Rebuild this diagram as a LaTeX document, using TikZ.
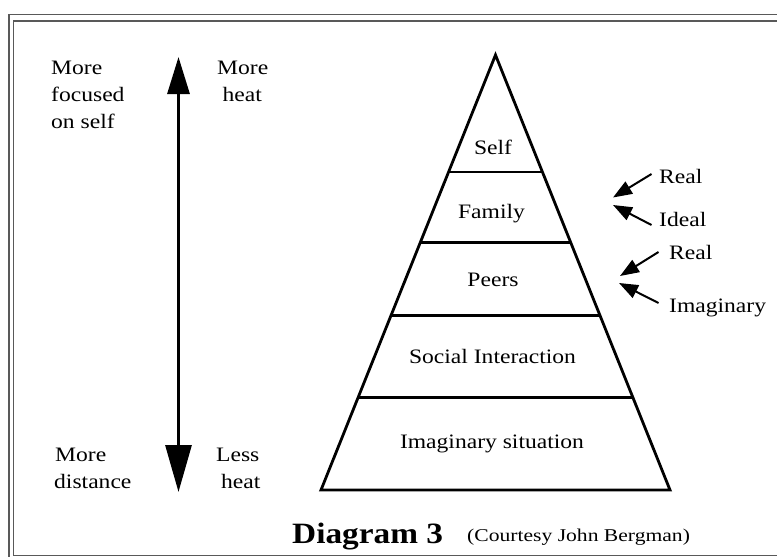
\documentclass[tikz,border=0pt]{standalone}
\usepackage{fontspec}
\setmainfont{Liberation Serif}[FakeStretch=1.15]
\newfontfamily\capfont{Liberation Serif}[FakeStretch=1.2]
\newfontfamily\titlefont{Liberation Serif Bold}[FakeStretch=1.13]
\usetikzlibrary{arrows.meta,calc}
\begin{document}
\begin{tikzpicture}[x=1pt,y=-1pt,
  frameline/.style={draw=black!65,line width=1.6pt},
  pyr/.style={draw=black,line width=2.8pt,line join=miter},
  tier/.style={draw=black,line width=2.8pt},
  lbl/.style={inner sep=0pt,anchor=base west,font=\fontsize{20.5}{24}\selectfont},
  plbl/.style={inner sep=0pt,anchor=base,font=\fontsize{20.5}{24}\selectfont},
  bigarrow/.style={draw=black,line width=3pt,
     {Triangle[length=37pt,width=22pt]}-{Triangle[length=47pt,width=26pt]}},
  smallarrow/.style={draw=black,line width=2pt,-{Triangle[length=19pt,width=14pt]}}]
\useasboundingbox (0,0) rectangle (777,557);
\fill[white] (0,0) rectangle (777,557);
% frame
\draw[frameline] (9,557) -- (9,14.5) -- (777,14.5);
\draw[frameline] (777,21) -- (13.5,21) -- (13.5,555.5) -- (777,555.5);
% pyramid
\coordinate (apex) at (495.5,55);
\coordinate (bl) at (321,490);
\coordinate (br) at (670,490);
\draw[pyr] (apex) -- (bl) -- (br) -- cycle;
\coordinate (l1) at ($(apex)!0.269!(bl)$);
\coordinate (r1) at ($(apex)!0.269!(br)$);
\coordinate (l2) at ($(apex)!0.431!(bl)$);
\coordinate (r2) at ($(apex)!0.431!(br)$);
\coordinate (l3) at ($(apex)!0.598!(bl)$);
\coordinate (r3) at ($(apex)!0.598!(br)$);
\coordinate (l4) at ($(apex)!0.787!(bl)$);
\coordinate (r4) at ($(apex)!0.787!(br)$);
\draw[tier] (l1) -- (r1);
\draw[tier] (l2) -- (r2);
\draw[tier] (l3) -- (r3);
\draw[tier] (l4) -- (r4);
\node[plbl] (self) at (493,154) {Self};
\node[plbl] (family) at (491.5,218) {Family};
\node[plbl] (peers) at (493,286) {Peers};
\node[plbl] (social) at (492.5,363) {Social Interaction};
\node[plbl] (imsit) at (492,448) {Imaginary situation};
% left scale
\coordinate (atop) at (178.5,57);
\coordinate (abot) at (178.5,492);
\draw[bigarrow] (atop) -- (abot);
\node[lbl] (m1) at (51,74) {More};
\node[lbl] (m2) at (51,101) {focused};
\node[lbl] (m3) at (51,128) {on self};
\node[lbl] (h1) at (217,74) {More};
\node[lbl] (h2) at (222.5,101) {heat};
\node[lbl] (d1) at (55,461) {More};
\node[lbl] (d2) at (54,488) {distance};
\node[lbl] (s1) at (216,461) {Less};
\node[lbl] (s2) at (221,488) {heat};
% right labels
\node[lbl] (real1) at (659,183) {Real};
\node[lbl] (ideal) at (659,226) {Ideal};
\node[lbl] (real2) at (669,259) {Real};
\node[lbl] (imag) at (669,312) {Imaginary};
\coordinate (ra1) at (651.5,174);
\coordinate (rt1) at (613,197.5);
\coordinate (ia1) at (651.5,225);
\coordinate (it1) at (613,205);
\coordinate (ra2) at (658.5,252);
\coordinate (rt2) at (620,276);
\coordinate (ia2) at (658.5,303);
\coordinate (it2) at (619,283);
\draw[smallarrow] (ra1) -- (rt1);
\draw[smallarrow] (ia1) -- (it1);
\draw[smallarrow] (ra2) -- (rt2);
\draw[smallarrow] (ia2) -- (it2);
% caption
\node[inner sep=0pt,anchor=base west,font=\titlefont\fontsize{29.5}{32}\selectfont] (cap) at (292,543) {Diagram 3};
\node[inner sep=0pt,anchor=base west,font=\capfont\fontsize{18}{20}\selectfont] (court) at (467,541) {(Courtesy John Bergman)};
\end{tikzpicture}
\end{document}
